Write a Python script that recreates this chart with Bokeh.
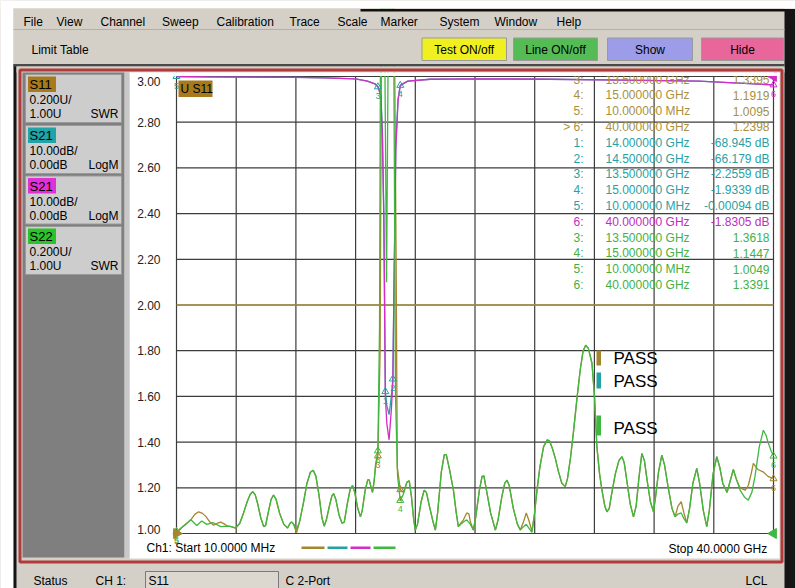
import math
from bokeh.plotting import figure
from bokeh.models import Range1d, Label, BoxAnnotation
from bokeh.core.properties import value
from bokeh.embed import file_html
from bokeh.resources import INLINE

# ---------------- data ----------------
f_start_ghz = 0.01
f_stop_ghz = 40.0
freq_divisions = 10
swr_ticks = [1.00, 1.20, 1.40, 1.60, 1.80, 2.00, 2.20, 2.40, 2.60, 2.80, 3.00]
swr_limit = 2.00
db_top = 0.0
db_bottom = -100.0

# S22 (green, SWR) : (GHz, SWR) readings
s22_pts = [(0.01, 1.000), (0.23, 1.020), (0.63, 1.040), (0.97, 1.060), (1.37, 1.035), (1.70, 1.055), (2.04, 1.040),
           (2.44, 1.048), (2.97, 1.030), (3.51, 1.032), (3.98, 1.025),
           (4.25, 1.045), (4.50, 1.090), (4.75, 1.140), (4.95, 1.172), (5.11, 1.183), (5.28, 1.170), (5.45, 1.130),
           (5.65, 1.070), (5.85, 1.030), (5.98, 1.035), (6.15, 1.090), (6.35, 1.150), (6.51, 1.168), (6.68, 1.150),
           (6.91, 1.090), (7.20, 1.040), (7.45, 1.024), (7.62, 1.045), (7.72, 1.050), (7.85, 1.042), (8.05, 1.018),
           (8.25, 1.050), (8.50, 1.130), (8.75, 1.220), (8.98, 1.268), (9.17, 1.277), (9.35, 1.250), (9.55, 1.170),
           (9.75, 1.070), (9.90, 1.032), (10.05, 1.060), (10.25, 1.120), (10.42, 1.165), (10.53, 1.175),
           (10.68, 1.150), (10.90, 1.080), (11.10, 1.045), (11.25, 1.050), (11.45, 1.130), (11.65, 1.195),
           (11.80, 1.210), (11.95, 1.180), (12.15, 1.110), (12.33, 1.073), (12.45, 1.100), (12.65, 1.190),
           (12.82, 1.235), (12.92, 1.235), (13.05, 1.200), (13.14, 1.180), (13.25, 1.230), (13.34, 1.300),
           (13.50, 1.3618), (13.61, 1.900), (13.68, 3.300), (13.94, 3.300), (14.08, 2.100), (14.21, 3.300),
           (14.55, 3.300), (14.68, 1.600), (14.82, 1.250), (15.00, 1.1447),
           (15.20, 1.170), (15.45, 1.225), (15.60, 1.230), (15.75, 1.160), (15.90, 1.060), (16.01, 1.015),
           (16.15, 1.040), (16.40, 1.140), (16.60, 1.190), (16.75, 1.180), (16.95, 1.120), (17.20, 1.050),
           (17.35, 1.015), (17.50, 1.090), (17.75, 1.270), (17.95, 1.345), (18.08, 1.345), (18.30, 1.280),
           (18.56, 1.190), (18.75, 1.090), (18.89, 1.030), (19.05, 1.040), (19.23, 1.050), (19.45, 1.060),
           (19.70, 1.040), (19.89, 1.015), (20.05, 1.070), (20.30, 1.190), (20.48, 1.250), (20.60, 1.252),
           (20.80, 1.180), (21.05, 1.090), (21.37, 1.015), (21.55, 1.060), (21.80, 1.160), (22.00, 1.220),
           (22.15, 1.233), (22.30, 1.210), (22.57, 1.110), (22.85, 1.040), (23.04, 1.015), (23.25, 1.030),
           (23.44, 1.040), (23.65, 1.020), (23.82, 1.005), (23.98, 1.080), (24.16, 1.190), (24.35, 1.290),
           (24.60, 1.380), (24.85, 1.410), (25.00, 1.405), (25.20, 1.370), (25.38, 1.330), (25.60, 1.270),
           (25.82, 1.220), (26.05, 1.205), (26.20, 1.240), (26.40, 1.330), (26.61, 1.450), (26.85, 1.600),
           (27.06, 1.720), (27.25, 1.800), (27.42, 1.824), (27.60, 1.810), (27.84, 1.745), (28.01, 1.600),
           (28.17, 1.380), (28.35, 1.260), (28.51, 1.190), (28.70, 1.120), (28.84, 1.095), (29.00, 1.110),
           (29.15, 1.170), (29.40, 1.260), (29.65, 1.320), (29.85, 1.336), (30.00, 1.310), (30.20, 1.220),
           (30.40, 1.130), (30.62, 1.073), (30.80, 1.120), (30.98, 1.240), (31.18, 1.350), (31.35, 1.320),
           (31.54, 1.230), (31.75, 1.140), (31.96, 1.095), (32.10, 1.160), (32.30, 1.270), (32.52, 1.343),
           (32.70, 1.300), (32.95, 1.200), (33.20, 1.110), (33.41, 1.073), (33.60, 1.085), (33.82, 1.090),
           (34.00, 1.065), (34.19, 1.046), (34.38, 1.110), (34.60, 1.220), (34.86, 1.285), (35.05, 1.220),
           (35.30, 1.100), (35.53, 1.030), (35.70, 1.100), (35.95, 1.260), (36.20, 1.336), (36.40, 1.290),
           (36.60, 1.220), (36.89, 1.180), (37.10, 1.230), (37.31, 1.280), (37.50, 1.240), (37.76, 1.190),
           (38.05, 1.160), (38.31, 1.146), (38.55, 1.180), (38.76, 1.250), (39.05, 1.380), (39.32, 1.452),
           (39.50, 1.430), (39.63, 1.400), (39.85, 1.360), (40.00, 1.3391)]

# S11 (olive, SWR) : (GHz, SWR) readings
s11_pts = [(0.01, 1.000), (0.42, 1.030), (0.97, 1.060), (1.25, 1.085), (1.50, 1.095), (1.75, 1.088), (1.97, 1.075),
           (2.25, 1.050), (2.50, 1.036), (2.75, 1.045), (2.97, 1.050), (3.20, 1.042), (3.44, 1.032), (3.70, 1.030),
           (3.98, 1.022),
           (4.25, 1.045), (4.50, 1.090), (4.75, 1.140), (4.95, 1.172), (5.11, 1.183), (5.28, 1.170), (5.45, 1.130),
           (5.65, 1.070), (5.85, 1.030), (5.98, 1.035), (6.15, 1.090), (6.35, 1.150), (6.51, 1.168), (6.68, 1.150),
           (6.91, 1.090), (7.20, 1.040), (7.45, 1.024), (7.62, 1.045), (7.72, 1.050), (7.85, 1.040), (8.05, 1.003),
           (8.25, 1.050), (8.50, 1.130), (8.75, 1.220), (8.98, 1.268), (9.17, 1.277), (9.35, 1.250), (9.55, 1.170),
           (9.75, 1.070), (9.90, 1.032), (10.05, 1.060), (10.25, 1.120), (10.42, 1.165), (10.53, 1.175),
           (10.68, 1.150), (10.90, 1.080), (11.10, 1.045), (11.25, 1.050), (11.45, 1.130), (11.65, 1.195),
           (11.80, 1.210), (11.95, 1.180), (12.15, 1.110), (12.33, 1.073), (12.45, 1.100), (12.65, 1.190),
           (12.82, 1.235), (12.92, 1.235), (13.05, 1.200), (13.14, 1.180), (13.25, 1.230), (13.34, 1.290),
           (13.50, 1.3395), (13.65, 1.800), (13.75, 3.300), (14.60, 3.300), (14.72, 2.200), (14.80, 1.290),
           (15.00, 1.1919),
           (15.20, 1.180), (15.45, 1.225), (15.60, 1.230), (15.75, 1.160), (15.90, 1.060), (16.01, 1.015),
           (16.15, 1.040), (16.40, 1.140), (16.60, 1.190), (16.75, 1.180), (16.95, 1.120), (17.20, 1.050),
           (17.35, 1.015), (17.50, 1.090), (17.75, 1.270), (17.95, 1.345), (18.08, 1.345), (18.30, 1.280),
           (18.56, 1.190), (18.75, 1.090), (18.89, 1.030), (19.05, 1.045), (19.23, 1.060), (19.45, 1.090),
           (19.60, 1.085), (19.70, 1.050), (19.89, 1.015), (20.05, 1.070), (20.30, 1.190), (20.48, 1.250),
           (20.60, 1.252), (20.80, 1.180), (21.05, 1.090), (21.37, 1.015), (21.55, 1.060), (21.80, 1.160),
           (22.00, 1.220), (22.15, 1.233), (22.30, 1.210), (22.57, 1.110), (22.85, 1.040), (23.04, 1.015),
           (23.25, 1.050), (23.44, 1.090), (23.60, 1.060), (23.82, 1.010), (23.98, 1.080), (24.16, 1.190),
           (24.35, 1.290), (24.60, 1.380), (24.85, 1.410), (25.00, 1.405), (25.20, 1.370), (25.38, 1.330),
           (25.60, 1.270), (25.82, 1.220), (26.05, 1.205), (26.20, 1.240), (26.40, 1.330), (26.61, 1.450),
           (26.85, 1.600), (27.06, 1.720), (27.25, 1.800), (27.42, 1.824), (27.60, 1.810), (27.84, 1.745),
           (28.01, 1.600), (28.17, 1.380), (28.35, 1.260), (28.51, 1.190), (28.70, 1.120), (28.84, 1.095),
           (29.00, 1.110), (29.15, 1.170), (29.40, 1.260), (29.65, 1.320), (29.85, 1.336), (30.00, 1.310),
           (30.20, 1.220), (30.40, 1.130), (30.62, 1.073), (30.80, 1.120), (30.98, 1.240), (31.18, 1.350),
           (31.35, 1.320), (31.54, 1.230), (31.75, 1.140), (31.96, 1.095), (32.10, 1.160), (32.30, 1.270),
           (32.52, 1.343), (32.70, 1.300), (32.95, 1.200), (33.20, 1.110), (33.41, 1.073), (33.60, 1.120),
           (33.82, 1.139), (34.00, 1.090), (34.19, 1.046), (34.38, 1.110), (34.60, 1.220), (34.86, 1.285),
           (35.05, 1.220), (35.30, 1.100), (35.53, 1.030), (35.70, 1.100), (35.95, 1.260), (36.20, 1.336),
           (36.40, 1.290), (36.60, 1.220), (36.89, 1.180), (37.10, 1.230), (37.31, 1.280), (37.50, 1.240),
           (37.76, 1.200), (38.11, 1.190), (38.31, 1.210), (38.50, 1.260), (38.65, 1.307), (38.96, 1.280),
           (39.30, 1.270), (39.63, 1.250), (40.00, 1.2398)]

s22_f = [a for a, _ in s22_pts]
s22_swr = [b for _, b in s22_pts]
s11_f = [a for a, _ in s11_pts]
s11_swr = [b for _, b in s11_pts]

s21_f = [0.01, 2.0, 5.0, 8.0, 10.0, 12.0, 12.8, 13.3, 13.5, 13.7, 13.8, 13.9, 14.0, 14.1, 14.25,
         14.4, 14.5, 14.6, 14.7, 14.85, 15.0, 15.5, 17.0, 20.0, 25.0, 30.0, 35.0, 40.0]
s21_db = [-0.00094, -0.1, -0.15, -0.2, -0.3, -0.5, -1.0, -1.6, -2.2559, -4.0, -12.0, -30.0, -68.945, -72.0, -74.0,
          -70.0, -66.179, -40.0, -15.0, -5.0, -1.9339, -1.0, -0.6, -0.5, -0.6, -0.8, -1.0, -1.85]
s21m_db = [-0.001, -0.1, -0.15, -0.2, -0.3, -0.5, -1.0, -1.6, -2.26, -4.2, -13.0, -32.0, -70.0, -76.0, -79.5,
           -73.0, -67.0, -42.0, -16.0, -5.2, -1.95, -1.0, -0.6, -0.5, -0.6, -0.8, -1.0, -1.8305]

trace_names = ["S11", "S21", "S21", "S22"]
trace_scale = ["0.200U/", "10.00dB/", "10.00dB/", "0.200U/"]
trace_ref = ["1.00U", "0.00dB", "0.00dB", "1.00U"]
trace_fmt = ["SWR", "LogM", "LogM", "SWR"]
swr_ref_value = 1.0

mk_s11_num = ["3", "4", "5", "6"]
mk_s11_f = [13.5, 15.0, 0.01, 40.0]
mk_s11_v = [1.3395, 1.1919, 1.0095, 1.2398]
mk_s21_num = ["1", "2", "3", "4", "5"]
mk_s21_f = [14.0, 14.5, 13.5, 15.0, 0.01]
mk_s21_v = [-68.945, -66.179, -2.2559, -1.9339, -0.00094]
mk_s21m_num = ["6"]
mk_s21m_f = [40.0]
mk_s21m_v = [-1.8305]
mk_s22_num = ["3", "4", "5", "6"]
mk_s22_f = [13.5, 15.0, 0.01, 40.0]
mk_s22_v = [1.3618, 1.1447, 1.0049, 1.3391]
active_s11_marker = "6"

limit_results = ["PASS", "PASS", "PASS"]
menu_items = ["File", "View", "Channel", "Sweep", "Calibration", "Trace", "Scale", "Marker", "System", "Window", "Help"]
buttons = ["Test ON/off", "Line ON/off", "Show", "Hide"]
start_text = "Ch1: Start  10.0000 MHz"
stop_text = "Stop  40.0000 GHz"

# ---------------- styling / layout ----------------
C_S11 = "#a4862e"
C_S21 = "#22a3a3"
C_S21M = "#d42cc8"
C_S22 = "#3fb83f"
T_S11 = "#a89040"
T_S21 = "#2a9fa3"
T_S21M = "#c02cc0"
T_S22 = "#44b044"
BG_S11 = "#a87a1c"
BG_S21 = "#20a4a8"
BG_S21M = "#e030d8"
BG_S22 = "#2ac42a"
GRAY = "#d4d0c8"
GRID = "#3c3c3c"
FONT = "Liberation Sans"

W, H = 795, 588
GX0, GX1, GY0, GY1 = 176.0, 773.0, 76.0, 533.0   # pixel box of the graticule

fx = (f_stop_ghz - f_start_ghz) / (GX1 - GX0)
sy = (swr_ticks[-1] - swr_ticks[0]) / (GY1 - GY0)
dy = (db_top - db_bottom) / (GY1 - GY0)

p = figure(width=W, height=H, output_backend="svg", toolbar_location=None,
           x_axis_location=None, y_axis_location=None, min_border=0,
           x_range=Range1d(f_start_ghz - GX0 * fx, f_stop_ghz + (W - GX1) * fx),
           y_range=Range1d(swr_ticks[0] - (H - GY1) * sy, swr_ticks[-1] + GY0 * sy),
           background_fill_color=GRAY, border_fill_color=GRAY)
p.extra_y_ranges = {"db": Range1d(db_bottom - (H - GY1) * dy, db_top + GY0 * dy)}
p.title.visible = False
p.outline_line_color = None
p.grid.visible = False


def box(x0, y0, x1, y1, fill=None, line=None, lw=1, level="guide"):
    b = BoxAnnotation(left=x0, right=x1, top=y0, bottom=y1,
                      left_units="canvas", right_units="canvas", top_units="canvas", bottom_units="canvas",
                      fill_color=fill if fill else "white", fill_alpha=1.0 if fill else 0.0,
                      line_color=line if line else "black", line_alpha=1.0 if line else 0.0,
                      line_width=lw, level=level)
    p.add_layout(b)


def lab(x, y, text, size=12, color="black", align="left", baseline="middle"):
    p.add_layout(Label(x=x, y=y, x_units="canvas", y_units="canvas", text=text,
                       text_font=FONT, text_font_size=f"{size}px", text_color=color,
                       text_align=align, text_baseline=baseline))


# white plot panel under the graticule
box(129, 72, 779, 558, fill="white", level="image")

# graticule
step = (f_stop_ghz - f_start_ghz) / freq_divisions
xt = [f_start_ghz + i * step for i in range(freq_divisions + 1)]
p.segment(x0=xt, y0=[swr_ticks[0]] * len(xt), x1=xt, y1=[swr_ticks[-1]] * len(xt),
          line_color=GRID, line_width=1.2, level="underlay")
p.segment(x0=[f_start_ghz] * len(swr_ticks), y0=swr_ticks, x1=[f_stop_ghz] * len(swr_ticks), y1=swr_ticks,
          line_color=GRID, line_width=1.2, level="underlay")
p.segment(x0=[f_start_ghz], y0=[swr_limit], x1=[f_stop_ghz], y1=[swr_limit],
          line_color="#a89040", line_width=1.4, level="underlay")

# traces
p.line(s11_f, s11_swr, line_color=C_S11, line_width=1.3)
p.line(s21_f, s21_db, line_color=C_S21, line_width=1.3, y_range_name="db")
p.line(s21_f, s21m_db, line_color=C_S21M, line_width=1.3, y_range_name="db")
p.line(s22_f, s22_swr, line_color=C_S22, line_width=1.3)

# markers
for mf, mv, mn, mc, rng in [(mk_s11_f, mk_s11_v, mk_s11_num, C_S11, "default"),
                            (mk_s21_f, mk_s21_v, mk_s21_num, C_S21, "db"),
                            (mk_s21m_f, mk_s21m_v, mk_s21m_num, C_S21M, "db"),
                            (mk_s22_f, mk_s22_v, mk_s22_num, C_S22, "default")]:
    p.scatter(mf, mv, marker="triangle", size=7, fill_color=None, line_color=mc, line_width=1, y_range_name=rng)
    p.text(mf, mv, text=mn, y_offset=9, text_font=value(FONT), text_font_size="9px", text_color=mc,
           text_align="center", text_baseline="middle", y_range_name=rng)

# reference position arrows
p.scatter([f_start_ghz], [swr_ref_value], marker="triangle", angle=-math.pi / 2, size=10, color=C_S11)
p.scatter([f_stop_ghz], [swr_ref_value], marker="triangle", angle=math.pi / 2, size=10, color=C_S22)
p.scatter([f_stop_ghz], [db_top], marker="triangle", angle=math.pi / 2, size=10, color=C_S21M, y_range_name="db")


# marker table
def ffreq(g):
    return f"{g * 1000:.6f} MHz" if g < 1 else f"{g:.6f} GHz"


rows = []
for n, f, v in zip(mk_s11_num, mk_s11_f, mk_s11_v):
    rows.append((("> " if n == active_s11_marker else "") + n + ":", ffreq(f), f"{v:.5g}", T_S11))
for n, f, v in zip(mk_s21_num, mk_s21_f, mk_s21_v):
    rows.append((n + ":", ffreq(f), f"{v:.5g} dB", T_S21))
for n, f, v in zip(mk_s21m_num, mk_s21m_f, mk_s21m_v):
    rows.append((n + ":", ffreq(f), f"{v:.5g} dB", T_S21M))
for n, f, v in zip(mk_s22_num, mk_s22_f, mk_s22_v):
    rows.append((n + ":", ffreq(f), f"{v:.5g}", T_S22))

n_ = len(rows)
yo = [3.0 + 15.8 * i for i in range(n_)]
common = dict(text_font=value(FONT), text_font_size="12px", text_baseline="middle")
cols = [r[3] for r in rows]
p.text([f_stop_ghz] * n_, [swr_ticks[-1]] * n_, text=[r[0] for r in rows], x_offset=-190, y_offset=yo,
       text_color=cols, text_align="right", **common)
p.text([f_stop_ghz] * n_, [swr_ticks[-1]] * n_, text=[r[1] for r in rows], x_offset=-168, y_offset=yo,
       text_color=cols, text_align="left", **common)
p.text([f_stop_ghz] * n_, [swr_ticks[-1]] * n_, text=[r[2] for r in rows], x_offset=-4, y_offset=yo,
       text_color=cols, text_align="right", **common)

# ---------------- window chrome (drawn above the traces) ----------------
box(0, 0, W, 8, fill="white")
box(0, 0, 13, H, fill="white")
box(13, 8, 784, 64, fill=GRAY)
box(360, 8.5, W, 11, fill="#111111")
box(784, 8.5, W, H, fill="#151515")
box(13, 64, 16, H, fill="#151515")
box(13, 28.5, 784, 29.5, fill="#b4b0a8")
box(13, 63.5, 784, 66, fill="#4a4a4a")
box(16, 66, 784, 72, fill=GRAY)
box(129, 72, 779, 75.4, fill="white")
box(19.5, 69.5, 781.5, 561.5, line="#b23a3a", lw=3)
box(22, 72, 124, 557, fill="#7f7f7f")
box(124, 72, 129, 557, fill="#c8c8c8")

# menu + toolbar
menu_x = [23, 56, 100, 161.5, 216, 289, 337, 380, 439, 494, 556]
for mx, m in zip(menu_x, menu_items):
    lab(mx, 21.5, m)
lab(31, 49, "Limit Table")
btn_x = [(421.5, 506), (513, 597), (607, 692), (701, 783)]
btn_c = ["#f0f020", "#55bb55", "#9c9ce8", "#e8669a"]
for (bx0, bx1), bc, bt in zip(btn_x, btn_c, buttons):
    box(bx0, 37.5, bx1, 60, fill=bc, line="#9a9a9a")
    lab((bx0 + bx1) / 2, 49, bt, align="center")

# trace info panel
tb_y = [74, 125, 175.5, 226]
tb_bg = [BG_S11, BG_S21, BG_S21M, BG_S22]
for ty, bg, nm, sc, rf, fm in zip(tb_y, tb_bg, trace_names, trace_scale, trace_ref, trace_fmt):
    box(25, ty, 121, ty + 48, fill="#cdcdcd", line="#9a9a9a")
    box(27.5, ty + 2, 55.5, ty + 17.5, fill=bg)
    lab(29, ty + 10, nm, size=13)
    lab(29, ty + 25.5, sc)
    lab(29, ty + 39.5, rf)
    lab(118, ty + 39.5, fm, align="right")

# y tick labels of the graticule
for t in swr_ticks:
    bl = "top" if t == swr_ticks[-1] else ("bottom" if t == swr_ticks[0] else "middle")
    p.add_layout(Label(x=160, y=t, x_units="canvas", y_units="data", text=f"{t:.2f}",
                       text_font=FONT, text_font_size="12px", text_color="#222222",
                       text_align="right", text_baseline=bl))

# bottom strip of the graph window
lab(146, 547, start_text)
lab(770, 548, stop_text, align="right")
for (lx0, lx1), lc in zip([(301, 324), (327, 347), (350, 370), (373, 395)], [C_S11, C_S21, C_S21M, C_S22]):
    box(lx0, 546, lx1, 548.5, fill=lc)

# "U S11" tag
box(178, 80, 212, 96.5, fill=BG_S11)
lab(180, 88.5, "U S11")

# limit test results
for (py0, py1), pc, py, pt in zip([(350, 365), (372, 388), (415, 435)], [C_S11, C_S21, C_S22],
                                  [358, 381, 428], limit_results):
    box(596, py0, 600.5, py1, fill=pc)
    lab(613, py, pt, size=17)

# status bar
lab(33, 580, "Status")
lab(95, 580, "CH 1:")
box(145, 571, 278, 590, fill="#dcd8d0", line="#7a7a7a")
lab(148, 580, "S11")
lab(285, 580, "C  2-Port")
lab(745, 580, "LCL")

open("out.html", "w").write(file_html(p, INLINE))
